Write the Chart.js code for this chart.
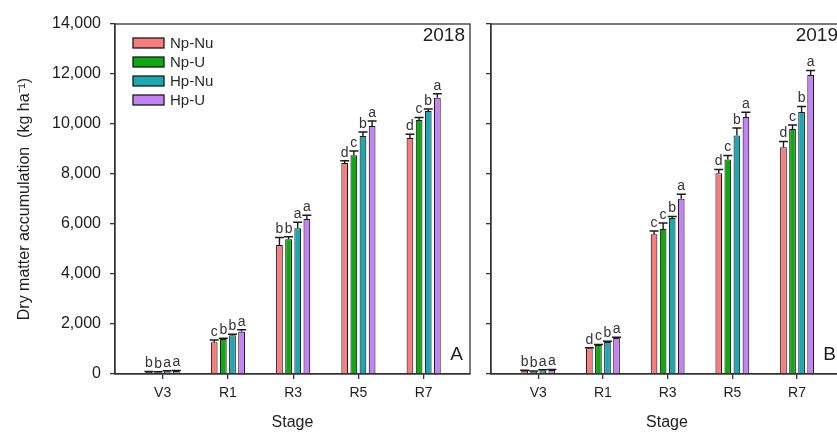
<!DOCTYPE html>
<html>
<head>
<meta charset="utf-8">
<script src="https://cdn.jsdelivr.net/npm/chart.js@4"></script>
<style>
html, body { margin: 0; padding: 0; background: #fff; overflow: hidden; width: 837px; height: 433px; }
#wrapA { position: absolute; left: 0; top: 0; width: 480px; height: 433px; }
#wrapB { position: absolute; left: 470px; top: 0; width: 385px; height: 433px; }
</style>
</head>
<body>
<div id="wrapA"><canvas id="graficoA" width="480" height="433"></canvas></div>
<div id="wrapB"><canvas id="graficoB" width="385" height="433"></canvas></div>
<script>
const estagios = ['V3', 'R1', 'R3', 'R5', 'R7'];
const tratamentos = ['Np-Nu', 'Np-U', 'Hp-Nu', 'Hp-U'];
const cores = ['#fa7d7d', '#10a810', '#1aa8b2', '#c582f4'];
const yTicks = [0, 2000, 4000, 6000, 8000, 10000, 12000, 14000];

// 2018 (painel A)
const npNu2018 = [80, 1270, 5160, 8440, 9440];
const npU2018 = [70, 1400, 5390, 8750, 10160];
const hpNu2018 = [110, 1550, 5830, 9520, 10520];
const hpU2018 = [120, 1690, 6200, 9920, 11050];
const erro2018 = [
    [20, 90, 300, 90, 150],
    [20, 30, 100, 170, 100],
    [20, 40, 240, 160, 80],
    [20, 80, 150, 200, 160]
];
const letras2018 = [
    ['b', 'c', 'b', 'd', 'd'],
    ['b', 'b', 'b', 'c', 'c'],
    ['a', 'b', 'a', 'b', 'b'],
    ['a', 'a', 'a', 'a', 'a']
];

// 2019 (painel B)
const npNu2019 = [130, 1030, 5590, 8030, 9070];
const npU2019 = [100, 1160, 5800, 8580, 9800];
const hpNu2019 = [150, 1280, 6240, 9540, 10480];
const hpU2019 = [160, 1440, 7010, 10280, 11960];
const erro2019 = [
    [20, 20, 130, 150, 230],
    [20, 20, 240, 160, 160],
    [20, 30, 60, 300, 220],
    [20, 30, 180, 190, 180]
];
const letras2019 = [
    ['b', 'd', 'c', 'd', 'd'],
    ['b', 'c', 'c', 'c', 'c'],
    ['a', 'b', 'b', 'b', 'b'],
    ['a', 'a', 'a', 'a', 'a']
];

const FONTE = "'Liberation Sans', Arial, sans-serif";
const TXT = '#1e1e1e';

const painelPlugin = {
    id: 'painel',
    afterDatasetsDraw(chart, args, opts) {
        const ctx = chart.ctx;
        const area = chart.chartArea;
        const y = chart.scales.y;
        ctx.save();

        // caixa do painel
        ctx.strokeStyle = '#333';
        ctx.lineWidth = 1.3;
        ctx.strokeRect(area.left, area.top, area.right - area.left, area.bottom - area.top);

        // barras de erro e letras
        chart.data.datasets.forEach((ds, d) => {
            const meta = chart.getDatasetMeta(d);
            meta.data.forEach((bar, i) => {
                const v = ds.data[i].y;
                const topo = y.getPixelForValue(v + opts.erros[d][i]);
                const base = y.getPixelForValue(v);
                ctx.strokeStyle = '#1a1a1a';
                ctx.lineWidth = 1.4;
                ctx.beginPath();
                ctx.moveTo(bar.x, base);
                ctx.lineTo(bar.x, topo);
                ctx.moveTo(bar.x - 4.5, topo);
                ctx.lineTo(bar.x + 4.5, topo);
                ctx.stroke();

                ctx.fillStyle = '#333';
                ctx.font = '14px ' + FONTE;
                ctx.textAlign = 'center';
                ctx.textBaseline = 'bottom';
                ctx.fillText(opts.letras[d][i], bar.x, topo - 1);
            });
        });

        // ano e letra do painel
        ctx.fillStyle = TXT;
        ctx.font = '19px ' + FONTE;
        ctx.textAlign = 'right';
        ctx.textBaseline = 'middle';
        ctx.fillText(opts.ano, area.right - 5, area.top + 12);
        ctx.fillText(opts.letra, area.right - 7, area.bottom - 19);

        // legenda
        if (opts.legenda) {
            ctx.font = '15px ' + FONTE;
            ctx.textAlign = 'left';
            chart.data.datasets.forEach((ds, d) => {
                const cy = area.top + 19 + d * 19;
                ctx.fillStyle = ds.backgroundColor;
                ctx.fillRect(area.left + 18, cy - 5, 31, 10);
                ctx.strokeStyle = '#1a1a1a';
                ctx.lineWidth = 1.3;
                ctx.strokeRect(area.left + 18, cy - 5, 31, 10);
                ctx.fillStyle = '#2a2a2a';
                ctx.fillText(ds.label, area.left + 55, cy + 1);
            });
        }
        ctx.restore();
    }
};

function montarDados(series) {
    return series.map((vals, d) => ({
        label: tratamentos[d],
        data: vals.map((v, i) => ({ x: i, y: v })),
        backgroundColor: cores[d],
        borderColor: '#1a1a1a',
        borderWidth: 1.1,
        categoryPercentage: 0.56,
        barPercentage: 0.74
    }));
}

function criarGrafico(id, series, erros, letras, ano, letra, comRotulos) {
    const ctx = document.getElementById(id);
    return new Chart(ctx, {
        type: 'bar',
        data: { datasets: montarDados(series) },
        options: {
            responsive: false,
            animation: false,
            events: [],
            layout: { padding: { left: 0, right: comRotulos ? 10 : 12, top: 24, bottom: 0 } },
            scales: {
                x: {
                    type: 'linear',
                    offset: false,
                    min: -0.73,
                    max: 4.71,
                    afterBuildTicks: (s) => { s.ticks = estagios.map((_, i) => ({ value: i })); },
                    afterFit: (s) => { s.height = 59; },
                    ticks: {
                        callback: (v) => estagios[v],
                        color: TXT,
                        font: { family: FONTE, size: 14 },
                        padding: 6,
                        maxRotation: 0
                    },
                    grid: { offset: false, drawOnChartArea: false, tickLength: 5, color: '#333', lineWidth: 1.3 },
                    border: { color: '#333', width: 1.3 },
                    title: {
                        display: true,
                        text: 'Stage',
                        color: TXT,
                        font: { family: FONTE, size: 16 },
                        padding: { top: 4, bottom: 1 }
                    }
                },
                y: {
                    min: 0,
                    max: 14000,
                    afterBuildTicks: (s) => { s.ticks = yTicks.map(v => ({ value: v })); },
                    afterFit: (s) => { s.width = comRotulos ? 115 : 21; },
                    ticks: {
                        display: comRotulos,
                        callback: (v) => v.toLocaleString('en-US'),
                        color: TXT,
                        font: { family: FONTE, size: 16 },
                        padding: 9
                    },
                    grid: { drawOnChartArea: false, tickLength: 5, color: '#333', lineWidth: 1.3 },
                    border: { color: '#333', width: 1.3 },
                    title: {
                        display: comRotulos,
                        text: 'Dry matter accumulation  (kg ha\u207B\u00B9)',
                        color: TXT,
                        font: { family: FONTE, size: 16 },
                        padding: { top: 15, bottom: 4 }
                    }
                }
            },
            plugins: {
                legend: { display: false },
                tooltip: { enabled: false },
                painel: { erros: erros, letras: letras, ano: ano, letra: letra, legenda: comRotulos }
            }
        },
        plugins: [painelPlugin]
    });
}

criarGrafico('graficoA', [npNu2018, npU2018, hpNu2018, hpU2018], erro2018, letras2018, '2018', 'A', true);
criarGrafico('graficoB', [npNu2019, npU2019, hpNu2019, hpU2019], erro2019, letras2019, '2019', 'B', false);
</script>
</body>
</html>
